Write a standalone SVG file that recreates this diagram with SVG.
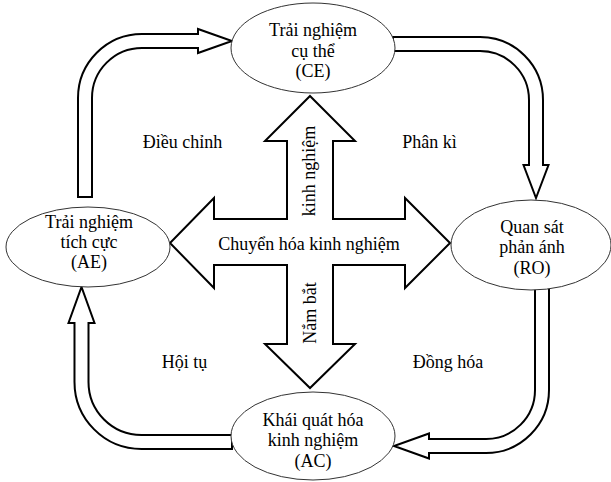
<svg xmlns="http://www.w3.org/2000/svg" width="611" height="482" viewBox="0 0 611 482">
<style>
.node ellipse{fill:#fff;stroke:#333;stroke-width:1}
.arr{fill:#fff;stroke:#000;stroke-width:2;stroke-linejoin:miter}
text{font-family:"Liberation Serif","Times New Roman",serif;font-size:18px;fill:#000;text-anchor:middle}
</style>
<rect width="611" height="482" fill="#fff"/>
<g id="connectors">
<path class="arr" d="M78,197 L78,98 A64,64 0 0 1 142,34 L198,34 L198,29 L232,41 L198,53 L198,48 L142,48 A50,50 0 0 0 92,98 L92,197 Z"/>
<path class="arr" d="M393,37 L480,37 A63,63 0 0 1 543,100 L543,165 L548.5,165 L536,198 L523.5,165 L529,165 L529,100 A49,49 0 0 0 480,51 L393,51 Z"/>
<path class="arr" d="M535,288 L549,288 L549,390 A63,63 0 0 1 486,453 L429,453 L429,458.5 L394,446 L429,433.5 L429,439 L486,439 A49,49 0 0 0 535,390 Z"/>
<path class="arr" d="M232,449 L141.5,449 A67,67 0 0 1 74.5,382 L74.5,323 L68.5,323 L81.5,287 L94.5,323 L88.5,323 L88.5,382 A53,53 0 0 0 141.5,435 L232,435 Z"/>
</g>
<g id="cross">
<path class="arr" d="M310,96 L355,141 L333,141 L333,219 L405,219 L405,198 L450,243 L405,288 L405,265 L333,265 L333,344 L355,344 L310,388 L265,344 L287,344 L287,265 L214,265 L214,288 L170,243 L214,198 L214,219 L287,219 L287,141 L265,141 Z"/>
<text x="309" y="250">Chuyển hóa kinh nghiệm</text>
<text transform="translate(315,171) rotate(-90)">kinh nghiệm</text>
<text transform="translate(316,313) rotate(-90)">Nắm bắt</text>
</g>
<g id="CE" class="node">
<ellipse cx="313" cy="48" rx="82" ry="45"/>
<text x="313" y="36">Trải nghiệm</text>
<text x="313" y="57">cụ thể</text>
<text x="313" y="77">(CE)</text>
</g>
<g id="RO" class="node">
<ellipse cx="531" cy="245" rx="80" ry="45"/>
<text x="532" y="233">Quan sát</text>
<text x="532" y="253">phản ánh</text>
<text x="532" y="274">(RO)</text>
</g>
<g id="AC" class="node">
<ellipse cx="313" cy="436" rx="82" ry="44"/>
<text x="313" y="426">Khái quát hóa</text>
<text x="313" y="446">kinh nghiệm</text>
<text x="313" y="467">(AC)</text>
</g>
<g id="AE" class="node">
<ellipse cx="88" cy="247" rx="82" ry="40"/>
<text x="89" y="228">Trải nghiệm</text>
<text x="89" y="248">tích cực</text>
<text x="89" y="268">(AE)</text>
</g>
<g id="labels">
<text x="182.5" y="148">Điều chỉnh</text>
<text x="429.5" y="148">Phân kì</text>
<text x="184.5" y="368">Hội tụ</text>
<text x="448" y="368">Đồng hóa</text>
</g>
</svg>
